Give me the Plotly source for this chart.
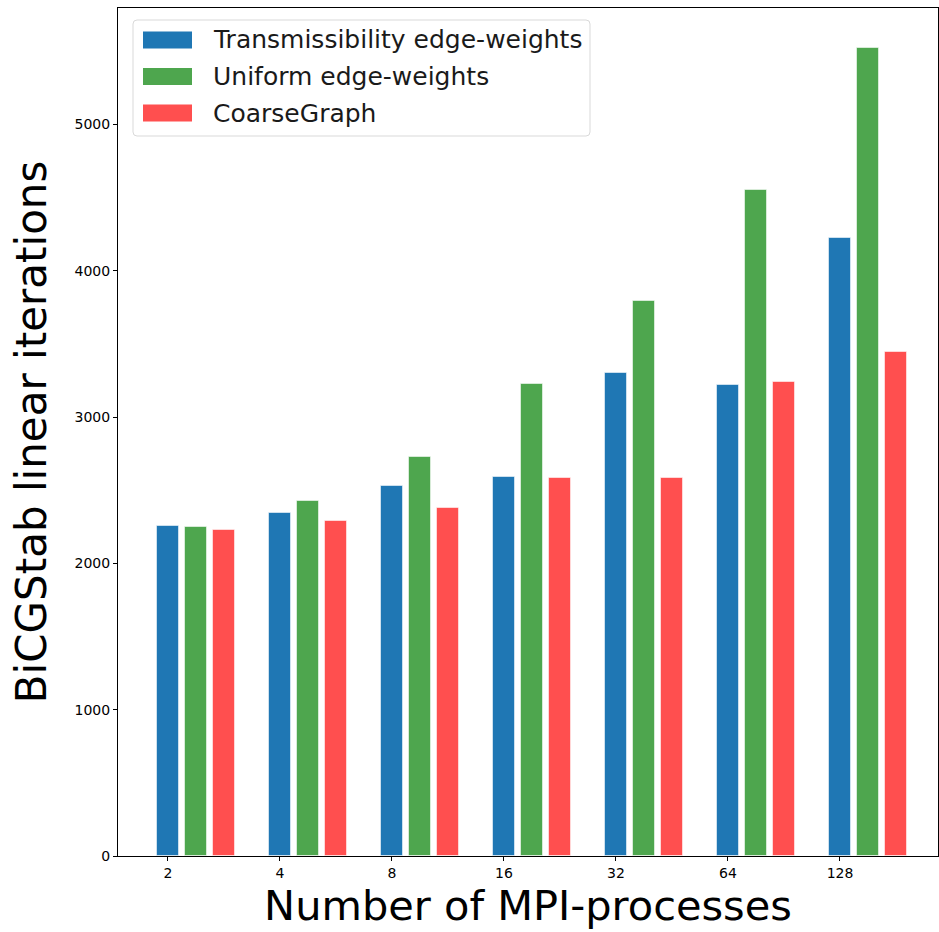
import plotly.graph_objects as go

# Number of MPI processes on the x axis
processes = ["2", "4", "8", "16", "32", "64", "128"]

# BiCGStab linear iterations for each partitioning strategy
transmissibility = [2256, 2345, 2527, 2591, 3304, 3222, 4223]
uniform = [2247, 2425, 2725, 3224, 3791, 4554, 5521]
coarse_graph = [2232, 2288, 2377, 2584, 2584, 3240, 3445]

series_names = ["Transmissibility edge-weights", "Uniform edge-weights", "CoarseGraph"]
series_colors = ["#1f77b4", "#4ea64e", "#ff4f4f"]
series_values = [transmissibility, uniform, coarse_graph]

bar_width = 0.2
bar_step = 0.25
y_max = max(max(v) for v in series_values) * 1.05

fig = go.Figure()
for k, (name, color, vals) in enumerate(zip(series_names, series_colors, series_values)):
    fig.add_trace(go.Bar(
        x=[i + k * bar_step for i in range(len(processes))],
        y=vals,
        width=bar_width,
        name=name,
        marker=dict(color=color, line=dict(color="rgba(255,255,255,0.55)", width=1)),
        showlegend=False,
    ))

W, H = 939, 932
L, R, T, B = 118, 1, 8, 76
pw, ph = W - L - R, H - T - B


def px_x(x):
    return (x - L) / pw


def px_y(y):
    return 1 - (y - T) / ph


# Legend box with rounded corners, drawn in paper coordinates
def rounded_box(x0, y0, x1, y1, r):
    X0, X1 = px_x(x0), px_x(x1)
    Y0, Y1 = px_y(y0), px_y(y1)
    rx, ry = r / pw, r / ph
    return (f"M {X0+rx},{Y0} L {X1-rx},{Y0} Q {X1},{Y0} {X1},{Y0-ry} "
            f"L {X1},{Y1+ry} Q {X1},{Y1} {X1-rx},{Y1} L {X0+rx},{Y1} "
            f"Q {X0},{Y1} {X0},{Y1+ry} L {X0},{Y0-ry} Q {X0},{Y0} {X0+rx},{Y0} Z")


shapes = [dict(type="path", xref="paper", yref="paper",
               path=rounded_box(133, 20, 590, 136, 4),
               fillcolor="rgba(255,255,255,0.8)", line=dict(color="#d9d9d9", width=1))]
annotations = []
rows = [40, 76.5, 113]
for name, color, yc in zip(series_names, series_colors, rows):
    shapes.append(dict(type="rect", xref="paper", yref="paper",
                       x0=px_x(143), x1=px_x(192), y0=px_y(yc + 8.5), y1=px_y(yc - 8.5),
                       fillcolor=color, line=dict(width=0)))
    annotations.append(dict(xref="paper", yref="paper", x=px_x(211), y=px_y(yc),
                            xanchor="left", yanchor="middle", showarrow=False,
                            text=name, font=dict(size=25, color="#1a1a1a")))

fig.update_layout(
    width=W, height=H,
    margin=dict(l=L, r=R, t=T, b=B, pad=0),
    paper_bgcolor="white", plot_bgcolor="white",
    font=dict(family="DejaVu Sans", color="black"),
    bargap=0,
    shapes=shapes,
    annotations=annotations,
    xaxis=dict(
        range=[-0.446, 6.875],
        tickvals=list(range(len(processes))),
        ticktext=processes,
        ticks="outside", ticklen=4, tickcolor="black",
        tickfont=dict(size=14),
        showline=True, linecolor="black", linewidth=1, mirror=True,
        showgrid=False, zeroline=False,
        title=dict(text="Number of MPI-processes", font=dict(size=41.5), standoff=8),
    ),
    yaxis=dict(
        range=[0, y_max],
        tickvals=[0, 1000, 2000, 3000, 4000, 5000],
        ticks="outside", ticklen=4, tickcolor="black",
        tickfont=dict(size=14),
        showline=True, linecolor="black", linewidth=1, mirror=True,
        showgrid=False, zeroline=False,
        title=dict(text="BiCGStab linear iterations", font=dict(size=42), standoff=14),
    ),
)

fig.write_html("out.html")
